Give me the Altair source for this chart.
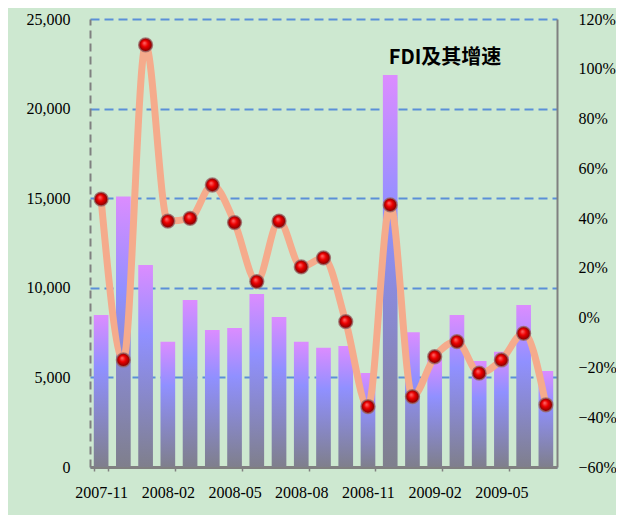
import altair as alt
import pandas as pd

months = ["2007-11", "2007-12", "2008-01", "2008-02", "2008-03", "2008-04", "2008-05",
          "2008-06", "2008-07", "2008-08", "2008-09", "2008-10", "2008-11", "2008-12",
          "2009-01", "2009-02", "2009-03", "2009-04", "2009-05", "2009-06", "2009-07"]
fdi = [8480, 15090, 11270, 6990, 9320, 7650, 7760, 9650, 8370, 6990, 6660,
       6750, 5240, 21880, 7520, 6000, 8480, 5920, 6430, 9040, 5360]
growth = [0.476, -0.17, 1.096, 0.388, 0.399, 0.533, 0.382, 0.145, 0.388, 0.204, 0.24,
          -0.016, -0.357, 0.453, -0.317, -0.157, -0.096, -0.223, -0.17, -0.063, -0.35]
label_months = ["2007-11", "2008-02", "2008-05", "2008-08", "2008-11", "2009-02", "2009-05"]
left_ticks = [0, 5000, 10000, 15000, 20000, 25000]
right_ticks = [-0.6, -0.4, -0.2, 0, 0.2, 0.4, 0.6, 0.8, 1.0, 1.2]
title_text = "FDI及其增速"

df = pd.DataFrame({"month": months, "fdi": fdi, "growth": growth})

BG = "#cde8d0"
serif = "Liberation Serif"
FS = 16

xenc = alt.X("month:N", sort=months,
             scale=alt.Scale(paddingInner=0.34, paddingOuter=0.17),
             axis=alt.Axis(values=label_months, labelAngle=0, title=None,
                           tickBand="extent", domainColor="#808080", domainWidth=3,
                           tickColor="#808080", tickSize=4, tickWidth=1.5,
                           labelPadding=13, grid=False))

bar_grad = alt.Gradient(gradient="linear",
                        stops=[alt.GradientStop(offset=0, color="#dc8cff"),
                               alt.GradientStop(offset=0.35, color="#9090ff"),
                               alt.GradientStop(offset=1, color="#7f7f8c")],
                        x1=0, x2=0, y1=0, y2=1)

bars = alt.Chart(df).mark_bar(fill=bar_grad).encode(
    x=xenc,
    y=alt.Y("fdi:Q", scale=alt.Scale(domain=[0, 25000], nice=False),
            axis=alt.Axis(values=left_ticks, format=",.0f",
                          title=None, orient="left", ticks=False, labelPadding=20,
                          domainColor="#808080", domainWidth=2, domainDash=[8, 5],
                          grid=True, gridColor="#5b8fd8", gridWidth=1.8,
                          gridDash=[9, 5])),
)

yr = alt.Y("growth:Q", scale=alt.Scale(domain=[-0.6, 1.2], nice=False),
           axis=alt.Axis(values=right_ticks,
                         format=".0%", title=None, orient="right", ticks=False,
                         labelFont=serif, labelFontSize=FS, labelColor="black",
                         labelPadding=21, domainColor="#808080", domainWidth=2,
                         grid=False))

line = alt.Chart(df).mark_line(color="#f5ab8c", strokeWidth=7, interpolate="monotone").encode(
    x=alt.X("month:N", sort=months), y=yr)

dot_grad = alt.RadialGradient(gradient="radial",
                              stops=[alt.GradientStop(offset=0, color="#ff7070"),
                                     alt.GradientStop(offset=0.45, color="#ee0000"),
                                     alt.GradientStop(offset=1, color="#7a0000")],
                              x1=0.4, y1=0.35, r1=0, x2=0.5, y2=0.5, r2=0.5)

points = alt.Chart(df).mark_point(filled=True, fill=dot_grad, size=190, opacity=1,
                                  stroke="#9a6a6a", strokeWidth=1.5, strokeOpacity=0.8).encode(
    x=alt.X("month:N", sort=months), y=yr)

title = alt.Chart(pd.DataFrame({"t": [title_text]})).mark_text(
    font="Noto Sans CJK SC", fontSize=20, fontWeight="bold", color="black",
    align="center", baseline="middle").encode(
    text="t:N", x=alt.value(355), y=alt.value(39))

chart = alt.layer(bars, alt.layer(line, points), title).resolve_scale(y="independent").properties(
    width=467, height=448,
    autosize=alt.AutoSizeParams(type="none"),
    padding={"left": 82, "top": 11, "right": 59, "bottom": 48},
    background=BG,
).configure_view(stroke=None, fill=BG).configure_axis(
    labelFont=serif, labelFontSize=FS, labelColor="black"
).configure_axisRight(labelFont=serif, labelFontSize=FS, labelColor="black")

chart.save("out.html", embed_options={"renderer": "svg", "actions": False})
